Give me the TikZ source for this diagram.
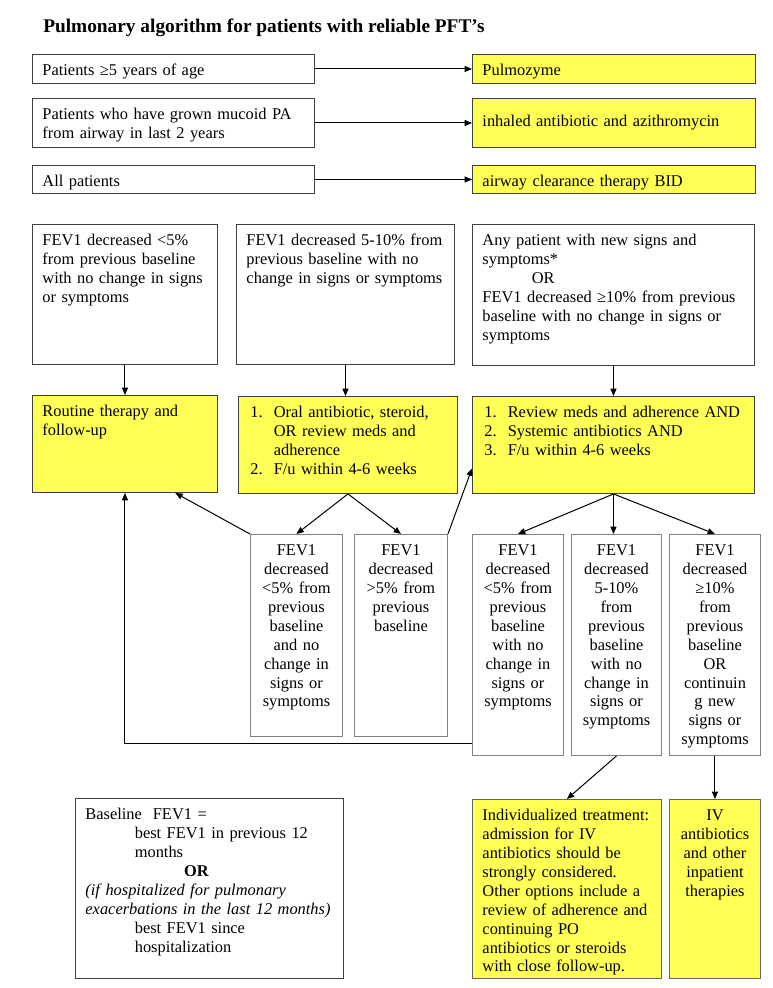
\documentclass[tikz,border=0pt]{standalone}
\usepackage{fontspec}
\setmainfont{Liberation Serif}
\usetikzlibrary{arrows.meta}

\definecolor{hiyel}{RGB}{255,255,85}
\newcommand{\numit}[1]{\hspace*{1.5pt}\makebox[17.5pt][l]{#1}}
\newcommand{\cont}{\hspace*{19pt}}

\begin{document}
\begin{tikzpicture}[x=0.75pt,y=-0.75pt,
    plainbox/.style={draw=black!75, line width=0.7pt, fill=white, anchor=north west,
        align=left, inner xsep=7.5pt, font=\fontsize{12.3}{14.2}\selectfont},
    box/.style={plainbox, inner ysep=4pt, text height=11.75pt},
    ybox/.style={box, fill=hiyel},
    nbox/.style={box, draw=black!50, align=center, inner xsep=3pt},
    arr/.style={-{Triangle[length=5.5pt,width=4.5pt]}, line width=0.75pt}]

    \useasboundingbox (0,0) rectangle (772,988);

    \node[anchor=base west, inner sep=0pt, font=\fontsize{14.5}{17}\selectfont\bfseries] (title) at (43,33)
        {Pulmonary algorithm for patients with reliable PFT's};

    % therapies for everybody
    \node[box, text width=196.5pt, text depth=2pt] (p1) at (32,54) {Patients ≥5 years of age};
    \node[ybox, text width=197.25pt, text depth=2pt] (t1) at (472,54) {Pulmozyme};
    \node[box, text width=196.5pt, text depth=17pt] (p2) at (32,98) {Patients who have grown mucoid PA\\from airway in last 2 years};
    \node[plainbox, fill=hiyel, text width=197.25pt, minimum height=36.75pt] (t2) at (472,98) {inhaled antibiotic and azithromycin};
    \node[box, text width=196.5pt, text depth=1.25pt] (p3) at (32,165) {All patients};
    \node[ybox, text width=197.25pt, text depth=1.25pt] (t3) at (472,165) {airway clearance therapy BID};

    \draw[arr] (p1) -- (t1);
    \draw[arr] (p2) -- (t2);
    \draw[arr] (p3) -- (t3);

    % FEV1 groups
    \node[box, text width=123.75pt, text depth=85.25pt] (a) at (32,224)
        {FEV1 decreased <5\%\\from previous baseline\\with no change in signs\\or symptoms};
    \node[box, text width=148.5pt, text depth=85.25pt] (b) at (236,224)
        {FEV1 decreased 5-10\% from\\previous baseline with no\\change in signs or symptoms};
    \node[box, text width=196.5pt, text depth=86pt] (c) at (472,224)
        {Any patient with new signs and\\symptoms*\\\hspace*{37pt}OR\\FEV1 decreased ≥10\% from previous\\baseline with no change in signs or\\symptoms};

    \node[ybox, text width=123.75pt, text depth=53pt] (y1) at (32,395) {Routine therapy and\\follow-up};
    \node[ybox, text width=149.25pt, text depth=53pt] (y2) at (238,396)
        {\numit{1.}Oral antibiotic, steroid,\\\cont OR review meds and\\\cont adherence\\\numit{2.}F/u within 4-6 weeks};
    \node[ybox, text width=196.5pt, text depth=53pt] (y3) at (472,396)
        {\numit{1.}Review meds and adherence AND\\\numit{2.}Systemic antibiotics AND\\\numit{3.}F/u within 4-6 weeks};

    \draw[arr] (a) -- (y1);
    \draw[arr] (b.south) -- (b.south |- y2.north);
    \draw[arr] (c.south) -- (c.south |- y3.north);

    % follow-up results
    \node[nbox, text width=63pt, text depth=131.75pt] (d1) at (250,534)
        {FEV1\\decreased\\<5\% from\\previous\\baseline\\and no\\change in\\signs or\\symptoms};
    \node[nbox, text width=63.75pt, text depth=131.75pt] (d2) at (354,534)
        {FEV1\\decreased\\>5\% from\\previous\\baseline};
    \node[nbox, text width=62.25pt, text depth=146pt] (e1) at (472,534)
        {FEV1\\decreased\\<5\% from\\previous\\baseline\\with no\\change in\\signs or\\symptoms};
    \node[nbox, text width=61.5pt, text depth=146pt] (e2) at (571,534)
        {FEV1\\decreased\\5-10\%\\from\\previous\\baseline\\with no\\change in\\signs or\\symptoms};
    \node[nbox, text width=62.25pt, text depth=146pt] (e3) at (669,534)
        {FEV1\\decreased\\≥10\%\\from\\previous\\baseline\\OR\\continuin\\g new\\signs or\\symptoms};

    \draw[arr] (y2.south) -- (d1.north);
    \draw[arr] (y2.south) -- (d2.north);
    \draw[arr] (d1.north west) -- ([xshift=-32pt]y1.south east);
    \draw[arr] (d2.north east) -- ([yshift=-17.6pt]y3.west);
    \draw[arr] (y3.south) -- (e1.north);
    \draw[arr] (y3.south) -- (y3.south |- e2.north);
    \draw[arr] (y3.south) -- (e3.north);
    \draw[arr] ([yshift=9pt]e1.south west) -| (y1.south);

    % baseline note and inpatient care
    \node[box, text width=186pt, text depth=115.25pt] (base) at (75,798)
        {Baseline\ \ FEV1 =\\\hspace*{37pt}best FEV1 in previous 12\\\hspace*{37pt}months\\\hspace*{74pt}\textbf{OR}\\
         \textit{(if hospitalized for pulmonary}\\\textit{exacerbations in the last 12 months)}\\\hspace*{37pt}best FEV1 since\\\hspace*{37pt}hospitalization};
    \node[ybox, draw=black!60, text width=126.75pt, text depth=114.5pt] (i1) at (472,799)
        {Individualized treatment:\\admission for IV\\antibiotics should be\\strongly considered.\\Other options include a\\review of adherence and\\continuing PO\\antibiotics or steroids\\with close follow-up.};
    \node[ybox, draw=black!60, align=center, inner xsep=3pt, text width=62.25pt, text depth=114.5pt] (i2) at (669,799)
        {IV\\antibiotics\\and other\\inpatient\\therapies};

    \draw[arr] (e2.south) -- (i1.north);
    \draw[arr] (e3.south) -- (i2.north);
\end{tikzpicture}
\end{document}
